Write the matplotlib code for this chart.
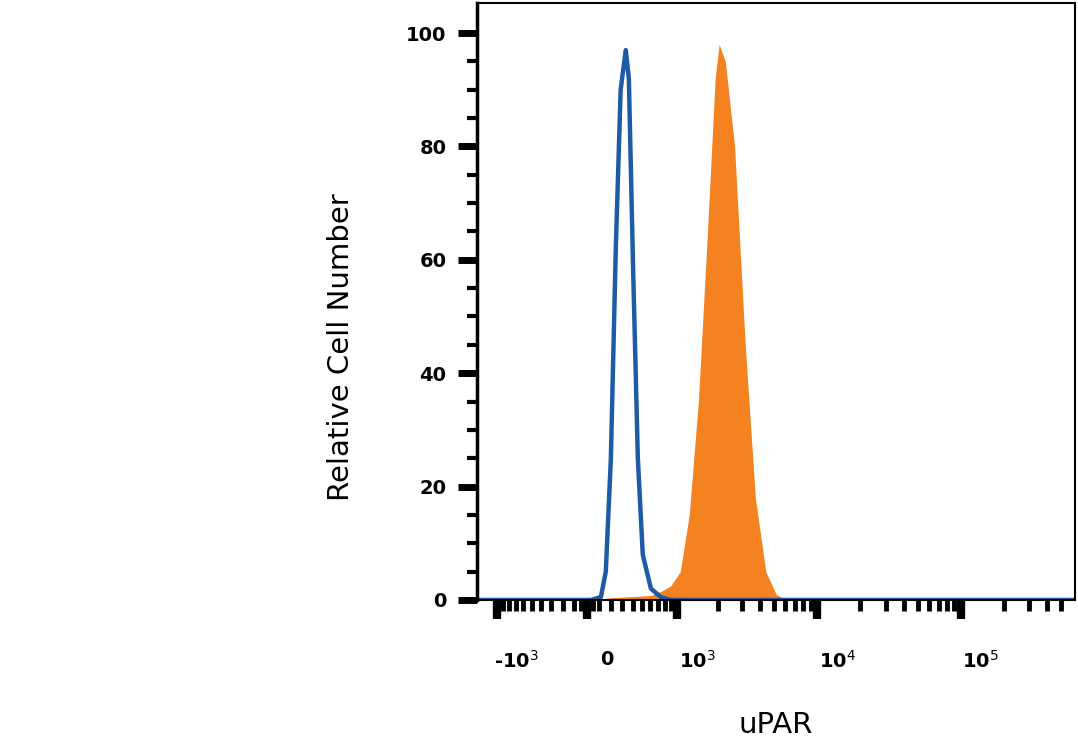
import numpy as np
import matplotlib
matplotlib.use("Agg")
import matplotlib.pyplot as plt
from matplotlib.transforms import ScaledTranslation

W = 500.0
blue_x = [-1400, 0, 32, 113, 154, 197, 240, 284, 332, 362, 403, 455, 510, 608, 743, 894, 1060, 600000]
blue_y = [0, 0, 0, 0.5, 5, 25, 62, 90, 97, 92, 60, 25, 8, 2, 0.5, 0, 0, 0]
orange_x = [-1400, 32, 200, 400, 608, 743, 894, 1060, 1240, 1450, 1690, 1920, 2050, 2270, 2640, 3140, 3700, 4380, 5170, 6060, 600000]
orange_y = [0, 0, 0.4, 0.6, 0.8, 1.5, 2.5, 5, 15, 35, 65, 92, 98, 95, 80, 45, 18, 5, 1, 0, 0]
major_ticks = [-1000, 0, 1000, 10000, 100000]
major_labels = ['-10$^3$', '0', '10$^3$', '10$^4$', '10$^5$']

fwd = lambda x: np.arcsinh(np.asarray(x) / W)
inv = lambda u: W * np.sinh(np.asarray(u))

fig = plt.figure(figsize=(10.78, 7.43), dpi=100)
ax = fig.add_axes([0.4425, 0.1925, 0.5545, 0.8035])
ax.set_xscale('function', functions=(fwd, inv))
ax.fill_between(orange_x, orange_y, color='#f58220', lw=0)
ax.plot(blue_x, blue_y, color='#1f5aa6', lw=3.2, solid_joinstyle='round')
ax.set_xlim(-1410, 620000)
ax.set_ylim(0, 105.3)

ax.set_xticks(major_ticks)
ax.set_xticklabels(major_labels)
minor = [-m * 100 for m in range(2, 10)] + [-100, -50, 50, 100] + [m * 100 for m in range(2, 10)] \
    + [m * 1000 for m in range(2, 10)] + [m * 10000 for m in range(2, 10)] + [200000, 300000, 400000, 500000]
ax.set_xticks(minor, minor=True)
ax.set_yticks([0, 20, 40, 60, 80, 100])
ax.set_yticks(range(5, 105, 5), minor=True)
ax.tick_params(axis='x', which='major', length=14, width=6, direction='out', pad=22)
ax.tick_params(axis='x', which='minor', length=8, width=3.5, direction='out')
ax.tick_params(axis='y', which='major', length=14, width=5, pad=8)
ax.tick_params(axis='y', which='minor', length=7, width=3)
for lab in ax.get_xticklabels():
    lab.set_transform(lab.get_transform() + ScaledTranslation(0.2, 0, fig.dpi_scale_trans))
for lab in ax.get_xticklabels() + ax.get_yticklabels():
    lab.set_fontweight('bold')
    lab.set_fontsize(14)
for s in ax.spines.values():
    s.set_linewidth(1.5)
ax.spines['left'].set_linewidth(2.5)
ax.set_ylabel('Relative Cell Number', fontsize=21)
ax.yaxis.set_label_coords(-0.204, 0.424)
ax.set_xlabel('uPAR', fontsize=21, labelpad=28)
fig.savefig('out.png', dpi=100)
